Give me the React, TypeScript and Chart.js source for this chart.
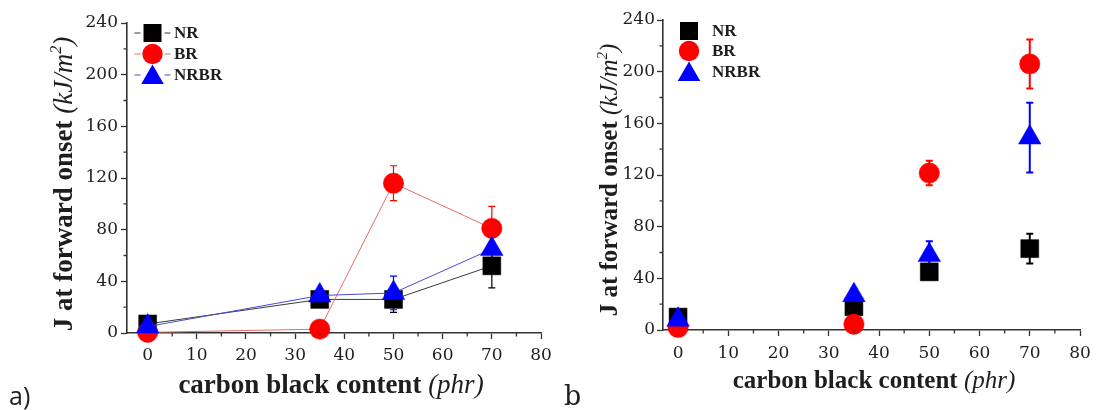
import React, { useEffect, useRef } from "react";
import { Chart, registerables } from "chart.js";

Chart.register(...registerables);

// carbon black loading (phr) shared by every series
const carbonBlack = [0, 35, 50, 70];
const xTickValues = [0, 10, 20, 30, 40, 50, 60, 70, 80];
const xMinorTicks = [5, 15, 25, 35, 45, 55, 65, 75];
const yTickValues = [0, 40, 80, 120, 160, 200, 240];
const yMinorTicks = [20, 60, 100, 140, 180, 220];
const seriesNames = ["NR", "BR", "NRBR"];

// panel (a): J at forward onset, kJ/m2, with +/- error
const nrA = [7, 26, 26, 52];
const nrAErr = [2, 3, 10, 17];
const brA = [0.5, 3, 116, 81];
const brAErr = [0.5, 1, 13.5, 17];
const nrbrA = [5, 29, 31, 65];
const nrbrAErr = [2, 3, 13, 13];

// panel (b)
const nrB = [10, 18, 45, 63];
const nrBErr = [2, 3, 4, 11.5];
const brB = [2, 4.5, 121.5, 206];
const brBErr = [1, 1, 9.5, 19];
const nrbrB = [8, 27, 58, 149];
const nrbrBErr = [2, 5, 10.7, 27];

const SERIF = "'Liberation Serif', 'DejaVu Serif', serif";
const SERIF_REGULAR = "'DejaVu Serif', serif";
const TEXT = "#1e1e1e";
const AXIS = "#333";

type Shape = "rect" | "circle" | "triangle";

interface SeriesStyle {
  color: string;
  lineColor: string;
  shape: Shape;
  radius: number;
  order: number;
}

const styles: SeriesStyle[] = [
  { color: "#000000", lineColor: "#3a3a3a", shape: "rect", radius: 12.7, order: 2 },
  { color: "#ff0000", lineColor: "#e86a6a", shape: "circle", radius: 10.2, order: 1 },
  { color: "#0000ff", lineColor: "#4a4ad0", shape: "triangle", radius: 13, order: 0 },
];

interface PanelCfg {
  key: string;
  values: number[][];
  errors: number[][];
  showLine: boolean;
  xMin: number;
  width: number;
  area: { left: number; top: number; right: number; bottom: number };
  tickPad: number;
  xLabelDrop: number;
  titleSize: number;
  yTitle: { x: number; y: number };
  xTitle: { x: number; y: number };
  legend: { x: number; rows: number[]; textX: number; line: boolean };
  letter: { text: string; font: string; x: number; y: number };
  errWidth: number;
}

const H = 410;
const TICK_LEN = 6;

const panels: PanelCfg[] = [
  {
    key: "a",
    values: [nrA, brA, nrbrA],
    errors: [nrAErr, brAErr, nrbrAErr],
    showLine: true,
    xMin: -4.2,
    width: 570,
    area: { left: 127, top: 23, right: 541, bottom: 333 },
    tickPad: 3,
    xLabelDrop: 27,
    titleSize: 27,
    yTitle: { x: 72, y: 184 },
    xTitle: { x: 331, y: 393 },
    legend: { x: 152.5, rows: [33, 54, 75], textX: 174, line: true },
    letter: { text: "a)", font: "25px 'Open Sans', sans-serif", x: 9, y: 405 },
    errWidth: 1.2,
  },
  {
    key: "b",
    values: [nrB, brB, nrbrB],
    errors: [nrBErr, brBErr, nrbrBErr],
    showLine: false,
    xMin: -3,
    width: 548,
    area: { left: 115, top: 20, right: 532, bottom: 330 },
    tickPad: 2,
    xLabelDrop: 28,
    titleSize: 25,
    yTitle: { x: 69, y: 180 },
    xTitle: { x: 326, y: 388 },
    legend: { x: 141, rows: [31, 51, 72], textX: 164, line: false },
    letter: { text: "b", font: "27px " + SERIF_REGULAR, x: 16, y: 405 },
    errWidth: 2,
  },
];

function markerPath(ctx: CanvasRenderingContext2D, shape: Shape, x: number, y: number, r: number) {
  ctx.beginPath();
  if (shape === "rect") {
    const s = Math.SQRT1_2 * r;
    ctx.rect(x - s, y - s, 2 * s, 2 * s);
  } else if (shape === "circle") {
    ctx.arc(x, y, r, 0, Math.PI * 2);
  } else {
    let a = 0;
    for (let i = 0; i < 3; i++) {
      const px = x + Math.sin(a) * r;
      const py = y - Math.cos(a) * r;
      if (i === 0) ctx.moveTo(px, py);
      else ctx.lineTo(px, py);
      a += (2 * Math.PI) / 3;
    }
    ctx.closePath();
  }
}

interface Part {
  text: string;
  font: string;
  rise?: number;
}

function drawRich(ctx: CanvasRenderingContext2D, parts: Part[], cx: number, baseline: number) {
  const widths = parts.map((p) => {
    ctx.font = p.font;
    return ctx.measureText(p.text).width;
  });
  const total = widths.reduce((s, w) => s + w, 0);
  let x = cx - total / 2;
  ctx.textAlign = "left";
  ctx.textBaseline = "alphabetic";
  parts.forEach((p, i) => {
    ctx.font = p.font;
    ctx.fillText(p.text, x, baseline - (p.rise || 0));
    x += widths[i];
  });
}

function makePlugins(cfg: PanelCfg) {
  const errorBars = {
    id: "errorBars" + cfg.key,
    beforeDatasetsDraw(chart: any) {
      const { ctx } = chart;
      const xs = chart.scales.x;
      const ys = chart.scales.y;
      ctx.save();
      ctx.lineWidth = cfg.errWidth;
      cfg.values.forEach((vals, si) => {
        ctx.strokeStyle = styles[si].color;
        vals.forEach((v, j) => {
          const e = cfg.errors[si][j];
          const px = xs.getPixelForValue(carbonBlack[j]);
          const top = ys.getPixelForValue(v + e);
          const bot = ys.getPixelForValue(Math.max(0, v - e));
          ctx.beginPath();
          ctx.moveTo(px, top);
          ctx.lineTo(px, bot);
          ctx.moveTo(px - 3.5, top);
          ctx.lineTo(px + 3.5, top);
          ctx.moveTo(px - 3.5, bot);
          ctx.lineTo(px + 3.5, bot);
          ctx.stroke();
        });
      });
      ctx.restore();
    },
  };

  const decorations = {
    id: "decor" + cfg.key,
    afterDraw(chart: any) {
      const { ctx } = chart;
      const xs = chart.scales.x;
      const ys = chart.scales.y;
      const area = chart.chartArea;
      ctx.save();

      // minor ticks
      ctx.strokeStyle = AXIS;
      ctx.lineWidth = 1.3;
      ctx.beginPath();
      xMinorTicks.forEach((v) => {
        const px = xs.getPixelForValue(v);
        ctx.moveTo(px, area.bottom);
        ctx.lineTo(px, area.bottom + 3.5);
      });
      yMinorTicks.forEach((v) => {
        const py = ys.getPixelForValue(v);
        ctx.moveTo(area.left, py);
        ctx.lineTo(area.left - 3.5, py);
      });
      ctx.stroke();

      // tick labels
      ctx.fillStyle = TEXT;
      ctx.font = `17px ${SERIF_REGULAR}`;
      ctx.textAlign = "center";
      ctx.textBaseline = "alphabetic";
      xTickValues.forEach((v) => {
        ctx.fillText(String(v), xs.getPixelForValue(v), area.bottom + cfg.xLabelDrop);
      });
      ctx.textAlign = "right";
      ctx.textBaseline = "middle";
      yTickValues.forEach((v) => {
        ctx.fillText(String(v), area.left - TICK_LEN - cfg.tickPad, ys.getPixelForValue(v));
      });

      // axis titles
      const fs = cfg.titleSize;
      ctx.save();
      ctx.translate(cfg.yTitle.x, cfg.yTitle.y);
      ctx.rotate(-Math.PI / 2);
      drawRich(
        ctx,
        [
          { text: "J at forward onset ", font: `bold ${fs}px ${SERIF}` },
          { text: "(kJ/m", font: `italic ${fs}px ${SERIF}` },
          { text: "2", font: `italic ${Math.round(fs * 0.6)}px ${SERIF}`, rise: fs * 0.42 },
          { text: ")", font: `italic ${fs}px ${SERIF}` },
        ],
        0,
        0
      );
      ctx.restore();
      drawRich(
        ctx,
        [
          { text: "carbon black content ", font: `bold ${fs}px ${SERIF}` },
          { text: "(phr)", font: `italic ${fs}px ${SERIF}` },
        ],
        cfg.xTitle.x,
        cfg.xTitle.y
      );

      // legend
      const lg = cfg.legend;
      seriesNames.forEach((name, i) => {
        const st = styles[i];
        const y = lg.rows[i];
        if (lg.line) {
          ctx.strokeStyle = st.lineColor;
          ctx.lineWidth = 1;
          ctx.beginPath();
          ctx.moveTo(lg.x - 18, y);
          ctx.lineTo(lg.x - 12, y);
          ctx.moveTo(lg.x + 12, y);
          ctx.lineTo(lg.x + 18, y);
          ctx.stroke();
        }
        ctx.fillStyle = st.color;
        const yy = st.shape === "triangle" ? y + st.radius * 0.2 : y;
        markerPath(ctx, st.shape, lg.x, yy, st.radius);
        ctx.fill();
        ctx.fillStyle = TEXT;
        ctx.font = `bold 17px ${SERIF}`;
        ctx.textAlign = "left";
        ctx.textBaseline = "middle";
        ctx.fillText(name, lg.textX, y + 1);
      });

      // panel letter
      ctx.fillStyle = TEXT;
      ctx.font = cfg.letter.font;
      ctx.textAlign = "left";
      ctx.textBaseline = "alphabetic";
      ctx.fillText(cfg.letter.text, cfg.letter.x, cfg.letter.y);

      ctx.restore();
    },
  };

  return [errorBars, decorations];
}

function Panel({ cfg, left }: { cfg: PanelCfg; left: number }) {
  const ref = useRef<HTMLCanvasElement>(null);

  useEffect(() => {
    if (!ref.current) return;
    const a = cfg.area;
    const chart = new Chart(ref.current, {
      type: "scatter",
      data: {
        datasets: cfg.values.map((vals, i) => ({
          label: seriesNames[i],
          data: vals.map((v, j) => ({ x: carbonBlack[j], y: v })),
          showLine: cfg.showLine,
          borderColor: styles[i].lineColor,
          borderWidth: 1,
          backgroundColor: styles[i].color,
          pointBackgroundColor: styles[i].color,
          pointBorderColor: styles[i].color,
          pointBorderWidth: 0.5,
          pointStyle: styles[i].shape,
          pointRadius: styles[i].radius,
          pointHoverRadius: styles[i].radius,
          order: styles[i].order,
          clip: false as any,
        })),
      },
      options: {
        animation: false,
        responsive: false,
        events: [],
        layout: {
          autoPadding: false,
          padding: { left: 0, top: a.top, right: cfg.width - a.right, bottom: 0 },
        },
        plugins: {
          legend: { display: false },
          tooltip: { enabled: false },
        },
        scales: {
          x: {
            type: "linear",
            min: cfg.xMin,
            max: 80,
            afterBuildTicks: (s: any) => {
              s.ticks = xTickValues.map((v) => ({ value: v }));
            },
            afterFit: (s: any) => {
              s.height = H - a.bottom;
              s.paddingLeft = 0;
              s.paddingRight = 0;
            },
            grid: { drawOnChartArea: false, tickLength: TICK_LEN, tickColor: AXIS, tickWidth: 1.3 },
            border: { color: AXIS, width: 1.6 },
            ticks: { display: false },
          },
          y: {
            type: "linear",
            min: 0,
            max: 240,
            afterBuildTicks: (s: any) => {
              s.ticks = yTickValues.map((v) => ({ value: v }));
            },
            afterFit: (s: any) => {
              s.width = a.left;
              s.paddingTop = 0;
              s.paddingBottom = 0;
            },
            grid: { drawOnChartArea: false, tickLength: TICK_LEN, tickColor: AXIS, tickWidth: 1.3 },
            border: { color: AXIS, width: 1.6 },
            ticks: { display: false },
          },
        },
      },
      plugins: makePlugins(cfg),
    } as any);
    return () => chart.destroy();
  }, [cfg]);

  return (
    <div style={{ position: "absolute", left, top: 0, width: cfg.width, height: H }}>
      <canvas ref={ref} width={cfg.width} height={H} style={{ display: "block" }} />
    </div>
  );
}

export default function App() {
  return (
    <div
      style={{
        position: "fixed",
        left: 0,
        top: 0,
        width: 1096,
        height: 410,
        background: "#ffffff",
        overflow: "hidden",
      }}
    >
      <Panel cfg={panels[0]} left={0} />
      <Panel cfg={panels[1]} left={548} />
    </div>
  );
}
